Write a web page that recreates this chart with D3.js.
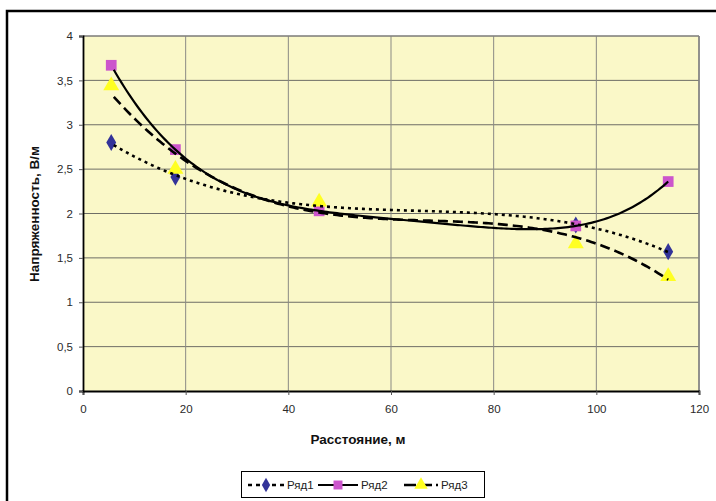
<!DOCTYPE html>
<html><head><meta charset="utf-8">
<script src="https://cdn.jsdelivr.net/npm/d3@7"></script>
<style>body{margin:0;background:#fff}svg{display:block}text{font-family:"Liberation Sans",Arial,sans-serif}</style>
</head><body>
<svg id="c" width="716" height="501"></svg>
<script>
const xValues = [5.5, 18, 46, 96, 114];
const series1 = [2.80, 2.41, 2.10, 1.87, 1.57];
const series2 = [3.67, 2.72, 2.03, 1.86, 2.36];
const series3 = [3.44, 2.50, 2.13, 1.66, 1.29];
const seriesNames = ["Ряд1", "Ряд2", "Ряд3"];
const xTicks = [0, 20, 40, 60, 80, 100, 120];
const yTicks = [0, 0.5, 1, 1.5, 2, 2.5, 3, 3.5, 4];
const trendDegree = [3, 4, 3];

const svg = d3.select("#c");
const L = 83, R = 699, T = 36, B = 391;
const x = d3.scaleLinear().domain([0, 120]).range([L, R]);
const y = d3.scaleLinear().domain([0, 4]).range([B, T]);
const fmt = v => String(v).replace(".", ",");

// outer frame
svg.append("rect").attr("x", 7).attr("y", 11).attr("width", 720).attr("height", 500)
  .attr("fill", "#fff").attr("stroke", "#000").attr("stroke-width", 2.5);

// plot area
svg.append("rect").attr("x", L).attr("y", T).attr("width", R - L).attr("height", B - T)
  .attr("fill", "#FAF8C8");

// grid
const g = svg.append("g");
g.selectAll(".hy").data(yTicks.filter(v => v > 0)).join("line")
  .attr("x1", L).attr("x2", R).attr("y1", d => y(d)).attr("y2", d => y(d))
  .attr("stroke", "#6e6e66").attr("stroke-width", 1);
g.selectAll(".vx").data(xTicks.filter(v => v > 0)).join("line")
  .attr("y1", T).attr("y2", B).attr("x1", d => x(d)).attr("x2", d => x(d))
  .attr("stroke", "#8a8a84").attr("stroke-width", 1);
svg.append("line").attr("x1", R).attr("x2", R).attr("y1", T).attr("y2", B).attr("stroke", "#808080").attr("stroke-width", 1.5);
svg.append("line").attr("x1", L).attr("x2", R).attr("y1", T).attr("y2", T).attr("stroke", "#808080").attr("stroke-width", 1);

// axes
const ax = svg.append("g").attr("transform", `translate(0,${B})`)
  .call(d3.axisBottom(x).tickValues(xTicks).tickSize(4).tickPadding(10).tickFormat(fmt));
const ay = svg.append("g").attr("transform", `translate(${L},0)`)
  .call(d3.axisLeft(y).tickValues(yTicks).tickSize(4).tickPadding(6).tickFormat(fmt));
[ax, ay].forEach(a => {
  a.select(".domain").attr("stroke", "#000").attr("stroke-width", 1.8);
  a.selectAll(".tick line").attr("stroke", "#555");
  a.selectAll("text").attr("font-size", 11.5).attr("fill", "#2a2a2a")
    .attr("font-family", '"Liberation Sans",Arial,sans-serif');
});

// titles
svg.append("text").attr("x", 358).attr("y", 444).attr("text-anchor", "middle")
  .attr("font-size", 13.5).attr("font-weight", "bold").attr("fill", "#111").text("Расстояние, м");
svg.append("text").attr("transform", "translate(39,214) rotate(-90)").attr("text-anchor", "middle")
  .attr("font-size", 13.5).attr("font-weight", "bold").attr("fill", "#111").text("Напряженность, В/м");

// polynomial least-squares fit
function polyfit(xs, ys, deg) {
  const n = deg + 1;
  const A = Array.from({length: n}, () => new Array(n + 1).fill(0));
  xs.forEach((xv, k) => {
    const t = xv / 100;
    for (let i = 0; i < n; i++) {
      for (let j = 0; j < n; j++) A[i][j] += Math.pow(t, i + j);
      A[i][n] += ys[k] * Math.pow(t, i);
    }
  });
  for (let i = 0; i < n; i++) {
    let p = i;
    for (let r = i + 1; r < n; r++) if (Math.abs(A[r][i]) > Math.abs(A[p][i])) p = r;
    [A[i], A[p]] = [A[p], A[i]];
    for (let r = 0; r < n; r++) if (r !== i) {
      const f = A[r][i] / A[i][i];
      for (let c = i; c <= n; c++) A[r][c] -= f * A[i][c];
    }
  }
  const coef = A.map((row, i) => row[n] / row[i]);
  return xv => coef.reduce((s, c, i) => s + c * Math.pow(xv / 100, i), 0);
}

const allSeries = [series1, series2, series3];
const dashes = ["3,4", null, "10,5"];
const widths = [2.6, 2.2, 2.6];
const colors = ["#333399", "#CC55CC", "#FFFF22"];

const line = d3.line().x(d => x(d[0])).y(d => y(d[1])).curve(d3.curveLinear);

// markers
const sym = [d3.symbolDiamond, d3.symbolSquare, d3.symbolTriangle];
const sizes = [85, 115, 110];
const mk = svg.append("g");
allSeries.forEach((s, i) => {
  mk.selectAll(null).data(s.map((v, k) => [xValues[k], v])).join("path")
    .attr("transform", d => `translate(${x(d[0])},${y(d[1])})`)
    .attr("d", d3.symbol(sym[i], sizes[i])())
    .attr("fill", colors[i]);
});

const lines = svg.append("g");
allSeries.forEach((s, i) => {
  const f = polyfit(xValues, s, trendDegree[i]);
  const x0 = xValues[0] + 0.5, x1 = xValues[xValues.length - 1];
  const pts = d3.range(x0, x1 + 0.01, 0.5).map(v => [v, f(v)]);
  lines.append("path").attr("d", line(pts)).attr("fill", "none").attr("stroke", "#000")
    .attr("stroke-width", widths[i]).attr("stroke-dasharray", dashes[i]);
});

// legend
const lg = svg.append("g");
lg.append("rect").attr("x", 241.5).attr("y", 471.5).attr("width", 243).attr("height", 26)
  .attr("fill", "#fff").attr("stroke", "#000").attr("stroke-width", 1);
const lx = [248, 318, 404];
const lw = [36, 40, 34];
const ly = 485;
seriesNames.forEach((n, i) => {
  lg.append("line").attr("x1", lx[i]).attr("x2", lx[i] + lw[i]).attr("y1", ly).attr("y2", ly)
    .attr("stroke", "#000").attr("stroke-width", widths[i]).attr("stroke-dasharray", dashes[i] ? (i === 0 ? "4,4" : "12,4") : null);
  lg.append("path").attr("transform", `translate(${lx[i] + lw[i] / 2},${ly})`)
    .attr("d", d3.symbol(sym[i], sizes[i] * 0.7)()).attr("fill", colors[i]);
  lg.append("text").attr("x", lx[i] + lw[i] + 3).attr("y", ly + 4).attr("font-size", 11.5).attr("fill", "#222").text(n);
});
</script>
</body></html>
